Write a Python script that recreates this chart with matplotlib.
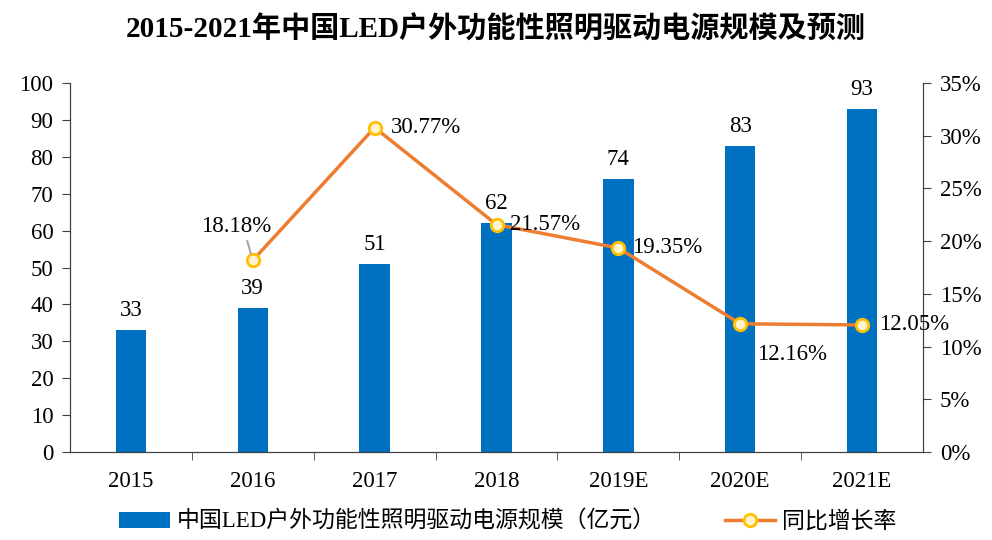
import matplotlib
matplotlib.use("Agg")
import matplotlib.pyplot as plt
from matplotlib.ticker import FuncFormatter, MultipleLocator

plt.rcParams["font.family"] = ["Liberation Serif", "Noto Sans CJK SC"]

years = ["2015", "2016", "2017", "2018", "2019E", "2020E", "2021E"]
scale = [33, 39, 51, 62, 74, 83, 93]
growth_years = ["2016", "2017", "2018", "2019E", "2020E", "2021E"]
growth = [18.18, 30.77, 21.57, 19.35, 12.16, 12.05]

bar_color = "#0070C0"
line_color = "#ED7D31"
fs = 16.5

fig = plt.figure(figsize=(9.92, 5.4), dpi=100)
ax = fig.add_axes([70 / 992, 88 / 540, 853 / 992, 369 / 540])
ax2 = ax.twinx()

x = list(range(len(years)))
bars = ax.bar(x, scale, width=0.25, color=bar_color, zorder=2,
              label="中国LED户外功能性照明驱动电源规模（亿元）")
for xi, v in zip(x, scale):
    ax.text(xi, v + 2.5, str(v), ha="center", va="bottom", fontsize=fs)

gx = [years.index(y) for y in growth_years]
line, = ax2.plot(gx, growth, color=line_color, lw=2.5, marker="o", ms=9,
                 mfc="#FFF2CC", mec="#FFC000", mew=2, zorder=3, label="同比增长率")

# label offsets in points (dx, dy, ha)
offsets = [(-12, 24, "center"), (12, 0, "left"), (10, 0, "left"),
           (10, 0, "left"), (12, -22, "left"), (12, 0, "left")]
for xi, v, (dx, dy, ha) in zip(gx, growth, offsets):
    ax2.annotate(f"{v:.2f}%", (xi, v), xytext=(dx, dy), textcoords="offset points",
                 ha=ha, va="center", fontsize=fs, zorder=4)
ax2.annotate("", (gx[0], growth[0]), xytext=(-4, 14), textcoords="offset points",
             arrowprops=dict(arrowstyle="-", color="#A6A6A6", lw=1.5, shrinkA=0, shrinkB=5))

ax.set_xlim(-0.5, len(years) - 0.5)
ax.set_ylim(0, 100)
ax2.set_ylim(0, 35)
ax.yaxis.set_major_locator(MultipleLocator(10))
ax2.yaxis.set_major_locator(MultipleLocator(5))
ax2.yaxis.set_major_formatter(FuncFormatter(lambda v, p: f"{v:.0f}%"))

ax.set_xticks(x)
ax.set_xticklabels(years)
ax.set_xticks([i + 0.5 for i in x[:-1]], minor=True)
ax.tick_params(axis="x", which="major", length=0, pad=14, labelsize=fs)
ax.tick_params(axis="x", which="minor", length=6, direction="out", color="#404040")
ax.tick_params(axis="y", length=6, direction="out", labelsize=fs, pad=6, color="#404040")
ax2.tick_params(axis="y", length=6, direction="out", labelsize=fs, pad=6, color="#404040")

for a in (ax, ax2):
    a.spines["top"].set_visible(False)
    for s in ("left", "right", "bottom"):
        a.spines[s].set_color("#404040")

fig.text(0.5, 0.945, "2015-2021年中国LED户外功能性照明驱动电源规模及预测",
         ha="center", va="center", fontsize=21, fontweight="bold")

fig.legend([bars, line], [bars.get_label(), line.get_label()], loc="lower center",
           bbox_to_anchor=(0.512, -0.025), ncol=2, frameon=False, fontsize=fs,
           handlelength=2.2, handletextpad=0.3, columnspacing=3)

fig.savefig("out.png", dpi=100)
